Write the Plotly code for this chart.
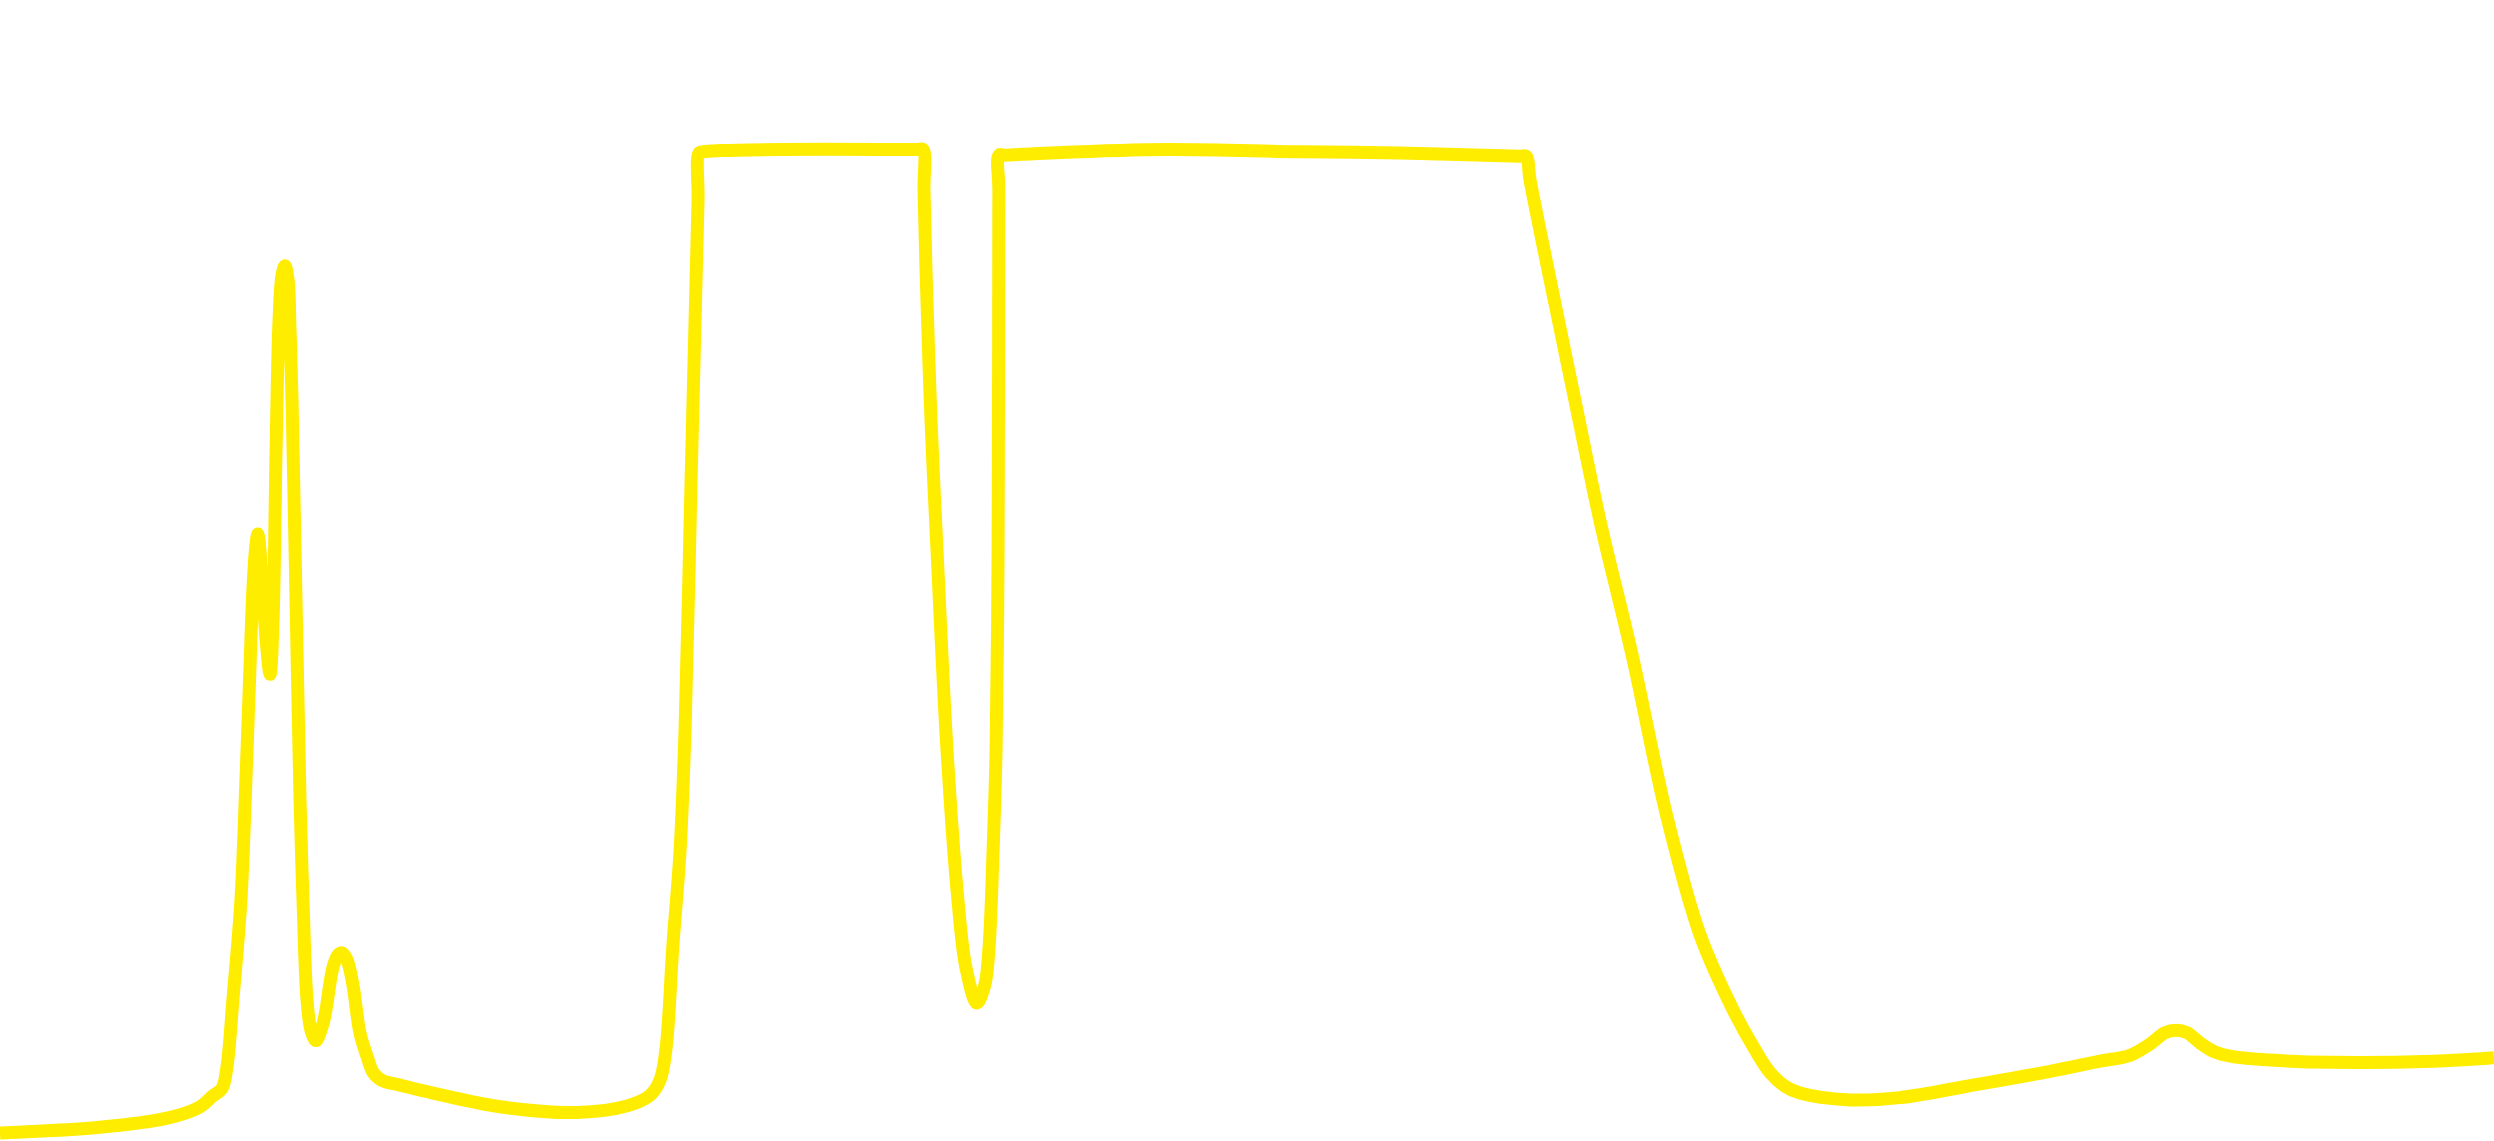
import plotly.graph_objects as go

# Spectral-style curve (x: 0-1000 arbitrary units, y: 0-100 %)
x_vals = [0, 40.1, 67.0, 80.2, 85.0, 89.0, 91.0, 93.4, 96.6, 98.6, 100.2, 101.4,
          102.6, 103.4, 105.1, 106.7, 108.3, 109.5, 110.7, 111.9, 113.1, 114.3,
          115.5, 116.3, 117.1, 118.7, 120.3, 121.5, 123.1, 124.7, 126.7, 128.7,
          130.3, 133.5, 135.5, 137.1, 139.1, 141.5, 144.3, 147.2, 149.6, 153.2,
          160.4, 173.6, 200.5, 231.4, 251.8, 260.6, 264.6, 267.0, 269.8, 272.7,
          274.7, 277.1, 279.1, 279.9, 280.3, 281.9, 288.7, 312.8, 352.8, 368.1,
          370.1, 370.5, 371.3, 373.3, 375.7, 379.7, 384.1, 387.3, 391.7, 394.9,
          396.6, 398.2, 399.4, 400.2, 400.4, 400.5, 400.6, 403.0, 421.0, 467.9,
          521.3, 561.3, 609.5, 611.9, 613.5, 621.5, 631.5, 641.5, 654.4, 668.4,
          681.6, 694.9, 703.7, 709.7, 715.7, 721.7, 741.8, 761.8, 788.7, 822.0,
          842.0, 854.0, 862.1, 868.1, 872.5, 876.9, 882.1, 888.1, 895.3, 910.2,
          935.4, 975.5, 1000]
y_vals = [0.7, 1.2, 2.0, 3.0, 3.9, 4.6, 6.5, 12.4, 21.1, 31.6, 41.3, 48.3,
          52.2, 53.2, 49.2, 43.9, 40.9, 45.7, 60.6, 72.0, 75.9, 76.7,
          75.5, 71.1, 64.9, 47.4, 29.9, 21.1, 12.4, 9.7, 8.8, 9.7,
          11.0, 15.2, 16.3, 16.5, 15.9, 13.7, 9.5, 7.4, 6.0, 5.3,
          4.9, 4.2, 3.0, 2.5, 3.1, 4.0, 5.3, 8.0, 17.1, 25.5,
          36.2, 57.9, 75.5, 82.5, 86.6, 86.7, 86.8, 86.9, 86.9, 86.9,
          86.9, 83.3, 76.3, 63.2, 51.8, 34.3, 21.1, 15.2, 12.1, 13.7,
          17.1, 25.5, 34.3, 51.8, 68.1, 83.3, 86.4, 86.4, 86.6, 86.9,
          86.7, 86.6, 86.3, 86.3, 84.2, 75.5, 64.9, 54.4, 42.6, 28.4,
          18.1, 11.5, 8.0, 6.0, 4.8, 4.2, 3.6, 3.8, 4.8, 6.1,
          7.0, 7.5, 8.5, 9.5, 9.7, 9.5, 8.6, 7.8, 7.4, 7.1,
          6.9, 7.0, 7.3]

LINE_COLOR = "#FFED00"

fig = go.Figure()
fig.add_trace(go.Scatter(
    x=x_vals, y=y_vals, mode="lines",
    line=dict(color=LINE_COLOR, width=13, shape="spline", smoothing=1.0),
    hoverinfo="skip", showlegend=False,
))

fig.update_layout(
    width=2494, height=1141,
    margin=dict(l=0, r=0, t=0, b=0, pad=0),
    paper_bgcolor="white", plot_bgcolor="white",
    showlegend=False,
    xaxis=dict(range=[0, 1000], visible=False, fixedrange=True),
    yaxis=dict(range=[0, 100], visible=False, fixedrange=True),
)

fig.write_html(
    "out.html",
    config={"displayModeBar": False, "staticPlot": True},
    post_script="document.body.style.margin='0';document.body.style.overflow='hidden';",
)
